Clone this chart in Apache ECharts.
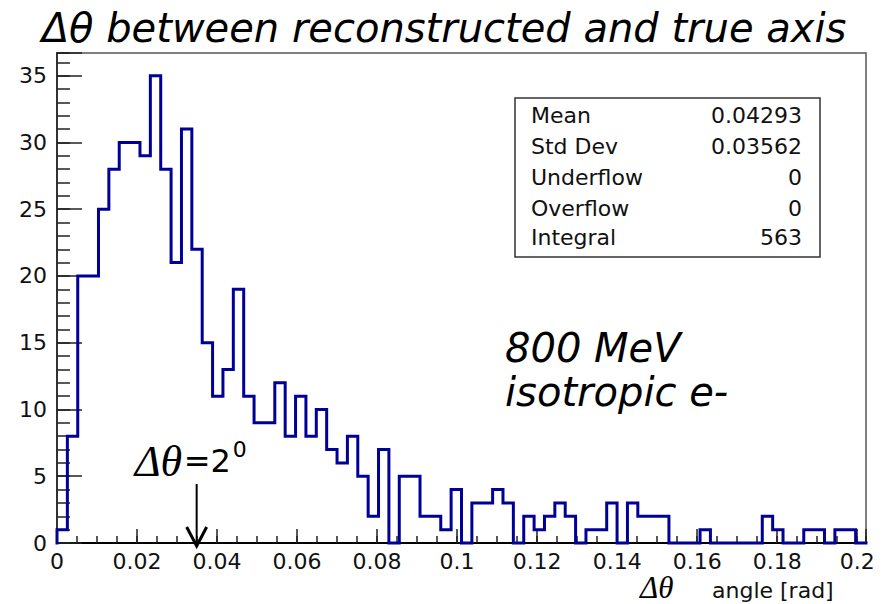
<!DOCTYPE html>
<html><head><meta charset="utf-8">
<script src="https://cdn.jsdelivr.net/npm/echarts@6/dist/echarts.min.js"></script>
<style>html,body{margin:0;padding:0;background:#fff}#c{width:887px;height:604px}</style>
</head><body><div id="c"></div>
<script>
// ---- data ----
const binCounts = [1,8,20,20,25,28,30,30,29,35,
  28,21,31,22,15,11,13,19,11,9,
  9,12,8,11,8,10,7,6,8,5,
  2,7,0,5,5,2,2,1,4,0,
  3,3,4,3,0,2,1,2,3,2,
  0,1,1,3,0,3,2,2,2,0,
  0,0,1,0,0,0,0,0,2,1,
  0,0,1,1,0,1,1,0];
const xRange = [0, 0.2022];
const yRange = [0, 36.7];
const xMajorStep = 0.02, xMinorStep = 0.005;
const yMajorStep = 5, yMinorStep = 1;
const titleText = 'Δθ between reconstructed and true axis';
const statLabels = ['Mean', 'Std Dev', 'Underflow', 'Overflow', 'Integral'];
const statValues = ['0.04293', '0.03562', '0', '0', '563'];
const noteLines = ['800 MeV', 'isotropic e-'];
const markerAngleDeg = 2;
const axisTitleSymbol = 'Δθ';
const axisTitleUnit = 'angle [rad]';

// ---- build step outline from bins ----
const binWidth = (xRange[1] - xRange[0]) / binCounts.length;
const stepData = [[xRange[0], 0]];
binCounts.forEach((v, i) => stepData.push([xRange[0] + i * binWidth, v]));
stepData.push([xRange[1], 0]);

const chart = echarts.init(document.getElementById('c'), null, {renderer: 'svg'});
const SANS = 'DejaVu Sans';
const tickColor = '#222';

function fmtX(v) {
  const r = Math.round(v / xMajorStep);
  if (Math.abs(v - r * xMajorStep) > 1e-6 || v > 0.2001) return '';
  return String(Number((r * xMajorStep).toFixed(2)));
}

const option = {
  animation: false,
  backgroundColor: '#fff',
  grid: {left: 57, right: 21, top: 53, bottom: 61, show: true, borderColor: '#555', borderWidth: 1.5, backgroundColor: 'transparent'},
  xAxis: [
    {type: 'value', min: xRange[0], max: xRange[1], interval: xMajorStep,
     axisLine: {show: true, lineStyle: {color: '#000', width: 2}},
     axisTick: {show: true, inside: true, length: 14, lineStyle: {color: tickColor, width: 1.5}},
     axisLabel: {show: true, formatter: fmtX, color: '#111', fontFamily: SANS, fontSize: 22, margin: 7, showMaxLabel: true, hideOverlap: false},
     splitLine: {show: false}},
    {type: 'value', min: xRange[0], max: xRange[1], interval: xMinorStep, position: 'bottom',
     axisLine: {show: false},
     axisTick: {show: true, inside: true, length: 7, lineStyle: {color: tickColor, width: 1.5}},
     axisLabel: {show: false}, splitLine: {show: false}}
  ],
  yAxis: [
    {type: 'value', min: yRange[0], max: yRange[1], interval: yMajorStep,
     axisLine: {show: true, lineStyle: {color: '#333', width: 2}},
     axisTick: {show: true, inside: true, length: 25, lineStyle: {color: tickColor, width: 1.5}},
     axisLabel: {show: true, color: '#111', fontFamily: SANS, fontSize: 22, margin: 10,
       formatter: v => (v % yMajorStep === 0 ? String(v) : '')},
     splitLine: {show: false}},
    {type: 'value', min: yRange[0], max: yRange[1], interval: yMinorStep, position: 'left',
     axisLine: {show: false},
     axisTick: {show: true, inside: true, length: 13, lineStyle: {color: tickColor, width: 1.5}},
     axisLabel: {show: false}, splitLine: {show: false}}
  ],
  series: [{
    type: 'line', xAxisIndex: 0, yAxisIndex: 0, step: 'end', data: stepData,
    symbol: 'none', clip: false, z: 5,
    lineStyle: {color: '#000099', width: 3, join: 'miter', cap: 'square'}
  }]
};
chart.setOption(option);

// ---- annotations ----
const ax = chart.convertToPixel({xAxisIndex: 0}, markerAngleDeg * Math.PI / 180);
const g = [];
g.push({type: 'text', x: 444, y: 28, style: {text: titleText, font: 'italic 40px "DejaVu Sans"', fill: '#000', textAlign: 'center', textVerticalAlign: 'middle'}});
g.push({type: 'rect', shape: {x: 515, y: 98, width: 305, height: 159}, style: {fill: '#fff', stroke: '#333', lineWidth: 1.5}, z: 10});
const statY = [115, 146, 177, 208, 237];
statLabels.forEach((t, i) => {
  g.push({type: 'text', x: 531, y: statY[i], z: 11, style: {text: t, font: '22px "DejaVu Sans"', fill: '#111', textAlign: 'left', textVerticalAlign: 'middle'}});
  g.push({type: 'text', x: 802, y: statY[i], z: 11, style: {text: statValues[i], font: '22px "DejaVu Sans"', fill: '#111', textAlign: 'right', textVerticalAlign: 'middle'}});
});
noteLines.forEach((t, i) => {
  g.push({type: 'text', x: 505, y: 348 + i * 44, style: {text: t, font: 'italic 40px "DejaVu Sans"', fill: '#000', textAlign: 'left', textVerticalAlign: 'middle'}});
});
// Δθ=2° label and arrow
g.push({type: 'text', x: ax - 62, y: 461, style: {text: 'Δθ', font: 'italic 44px "Liberation Serif"', fill: '#000', textAlign: 'left', textVerticalAlign: 'middle'}});
g.push({type: 'text', x: ax - 13, y: 461, style: {text: '=2', font: '32px "DejaVu Sans"', fill: '#000', textAlign: 'left', textVerticalAlign: 'middle'}});
g.push({type: 'text', x: ax + 36, y: 449, style: {text: '0', font: '22px "DejaVu Sans"', fill: '#000', textAlign: 'left', textVerticalAlign: 'middle'}});
g.push({type: 'line', shape: {x1: ax, y1: 484, x2: ax, y2: 545}, style: {stroke: '#000', lineWidth: 2}, z: 20});
g.push({type: 'polyline', shape: {points: [[ax - 10, 527], [ax, 546], [ax + 10, 527]]}, style: {stroke: '#000', lineWidth: 3, fill: null}, z: 20});
// axis title
g.push({type: 'text', x: 640, y: 603, style: {text: axisTitleSymbol, font: 'italic 31px "Liberation Serif"', fill: '#000', textAlign: 'left', textVerticalAlign: 'bottom'}});
g.push({type: 'text', x: 712, y: 590, style: {text: axisTitleUnit, font: '22px "DejaVu Sans"', fill: '#111', textAlign: 'left', textVerticalAlign: 'middle'}});
chart.setOption({graphic: g});
</script>
</body></html>
